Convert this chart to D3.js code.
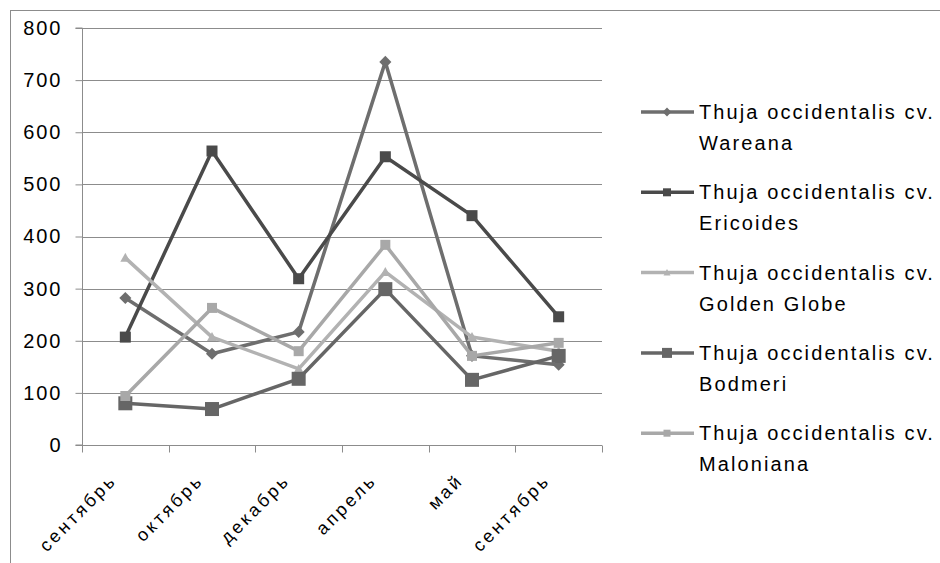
<!DOCTYPE html>
<html><head><meta charset="utf-8">
<script src="https://cdn.jsdelivr.net/npm/d3@7"></script>
<style>body{margin:0;background:#fff}svg{display:block}text{font-family:"Liberation Sans",Arial,sans-serif}</style>
</head><body>
<svg id="c" width="940" height="563"></svg>
<script>
const categories = ["сентябрь","октябрь","декабрь","апрель","май","сентябрь"];
const yTicks = [0,100,200,300,400,500,600,700,800];
const seriesNames = ["Thuja occidentalis cv. Wareana","Thuja occidentalis cv. Ericoides","Thuja occidentalis cv. Golden Globe","Thuja occidentalis cv. Bodmeri","Thuja occidentalis cv. Maloniana"];
const wareana    = [282,175,217,735,171,154];
const ericoides  = [207,564,319,553,440,246];
const goldenGlobe= [359,207,146,332,207,180];
const bodmeri    = [80,69,127,299,125,171];
const maloniana  = [94,263,180,384,171,196];
const seriesValues = [wareana,ericoides,goldenGlobe,bodmeri,maloniana];

const styles = [
  {color:"#6e6e6e", shape:"diamond", size:11, lsize:8},
  {color:"#4a4a4a", shape:"square", size:11, lsize:8},
  {color:"#b2b2b2", shape:"triangle", size:10, lsize:7},
  {color:"#666666", shape:"square", size:14, lsize:10},
  {color:"#a8a8a8", shape:"square", size:10, lsize:7}
];

const svg = d3.select("#c");
svg.append("rect").attr("x",10.5).attr("y",10.5).attr("width",960).attr("height",600)
  .attr("fill","none").attr("stroke","#8c8c8c").attr("stroke-width",1);

const L=82, R=602, T=28, B=445;
const x = d3.scaleBand().domain(d3.range(categories.length)).range([L,R]).paddingInner(0).paddingOuter(0);
const y = d3.scaleLinear().domain([0,800]).range([B,T]);
const cx = i => x(i)+x.bandwidth()/2;

// gridlines
svg.append("g").selectAll("line").data(yTicks.filter(d=>d>0)).join("line")
  .attr("x1",L).attr("x2",R).attr("y1",d=>Math.round(y(d))+0.5).attr("y2",d=>Math.round(y(d))+0.5)
  .attr("stroke","#8c8c8c").attr("stroke-width",1);

// y axis
const ya = svg.append("g").attr("transform",`translate(${L+0.5},0)`)
  .call(d3.axisLeft(y).tickValues(yTicks).tickSize(7).tickPadding(13).tickFormat(d3.format("d")));
ya.select(".domain").attr("stroke","#8c8c8c").attr("d",`M-7,${y(0)}H0V${y(800)}H-7`);
ya.selectAll(".tick line").attr("stroke","#8c8c8c");
ya.selectAll(".tick text").attr("font-size",20).attr("fill","#000").attr("letter-spacing","2px")
  .attr("font-family","'Liberation Sans',Arial,sans-serif");

// x axis
const xa = svg.append("g").attr("transform",`translate(0,${B+0.5})`)
  .call(d3.axisBottom(x).tickValues([]).tickSize(0));
xa.select(".domain").attr("stroke","#8c8c8c").attr("d",`M${L},0H${R}`);
xa.selectAll("line.tk").data(d3.range(categories.length+1)).join("line").attr("class","tk")
  .attr("x1",i=>Math.round(L+i*x.bandwidth())+0.5).attr("x2",i=>Math.round(L+i*x.bandwidth())+0.5)
  .attr("y1",0).attr("y2",7).attr("stroke","#8c8c8c");
svg.append("g").selectAll("text").data(categories).join("text")
  .attr("transform",(d,i)=>`translate(${cx(i)-12},${B+32}) rotate(-45)`)
  .attr("text-anchor","end").attr("dy","0.35em").attr("font-size",18).attr("letter-spacing","3px")
  .attr("fill","#000").text(d=>d);

function marker(g, shape, s, color){
  if(shape==="square") g.append("rect").attr("x",-s/2).attr("y",-s/2).attr("width",s).attr("height",s).attr("fill",color);
  else if(shape==="diamond") g.append("path").attr("d",`M0,${-s/2*1.1}L${s/2*1.1},0L0,${s/2*1.1}L${-s/2*1.1},0Z`).attr("fill",color);
  else g.append("path").attr("d",`M0,${-s/2}L${s/2},${s/2*0.8}L${-s/2},${s/2*0.8}Z`).attr("fill",color);
}

const line = d3.line().x((d,i)=>cx(i)).y(d=>y(d));
seriesValues.forEach((vals,k)=>{
  const st = styles[k];
  const g = svg.append("g");
  g.append("path").attr("d",line(vals)).attr("fill","none").attr("stroke",st.color)
    .attr("stroke-width",3.5).attr("stroke-linejoin","round");
  vals.forEach((v,i)=>{
    const m = g.append("g").attr("transform",`translate(${cx(i)},${y(v)})`);
    marker(m, st.shape, st.size, st.color);
  });
});

// legend
const lg = svg.append("g");
seriesNames.forEach((name,k)=>{
  const st = styles[k];
  const ly = 112 + k*80.3;
  const g = lg.append("g").attr("transform",`translate(0,${ly})`);
  g.append("line").attr("x1",641).attr("x2",694).attr("y1",0).attr("y2",0)
    .attr("stroke",st.color).attr("stroke-width",3.5);
  const m = g.append("g").attr("transform","translate(667,0)");
  marker(m, st.shape, st.lsize, st.color);
  const parts = ["Thuja occidentalis cv.", name.replace("Thuja occidentalis cv. ","")];
  parts.forEach((p,j)=>{
    g.append("text").attr("x",699).attr("y",j*31).attr("dy","0.35em").attr("font-size",20)
      .attr("letter-spacing","2.1px").attr("fill","#000").text(p);
  });
});
</script>
</body></html>
